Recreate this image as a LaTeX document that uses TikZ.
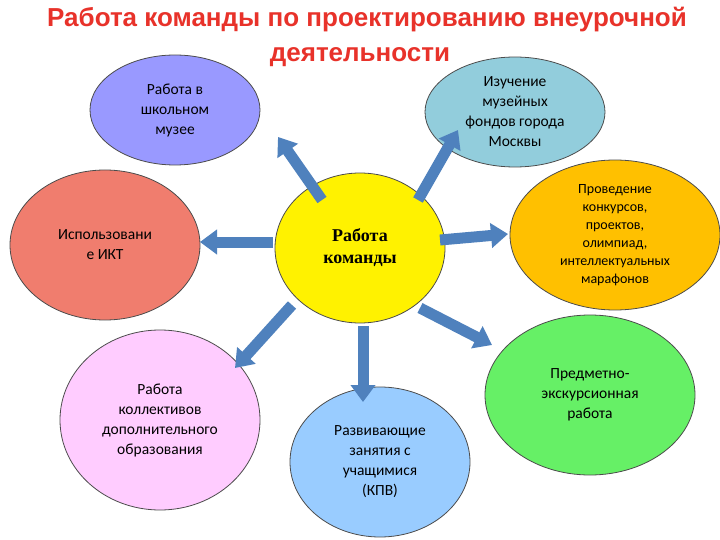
\documentclass[tikz,border=0pt]{standalone}
\usepackage{fontspec}
\setmainfont{Carlito}
\newfontfamily\titlefont{Liberation Sans}
\newfontfamily\serfont{Liberation Serif}
\usetikzlibrary{arrows.meta,shapes.geometric}
\definecolor{arrblue}{HTML}{4F81BD}
\definecolor{ttlred}{HTML}{E8322A}
\tikzset{
  bub/.style={ellipse, draw=black!70, line width=0.8pt, align=center, font=\fontsize{15.5}{20}\selectfont, inner sep=0pt},
  barr/.style={draw=arrblue, line width=11pt, -{Triangle[width=24pt,length=17pt]}},
  ttl/.style={font=\titlefont\bfseries\fontsize{26}{29}\selectfont, text=ttlred}
}
\begin{document}
\begin{tikzpicture}[x=1pt,y=-1pt]
\useasboundingbox[fill=white] (0,0) rectangle (720,540);
% title
\node[ttl] (t1) at (367,20) {Работа команды по проектированию внеурочной};
\node[ttl] (t2) at (360,57) {деятельности};
% bubbles
\node[bub, fill={rgb,255:red,153;green,153;blue,255}, minimum width=170, minimum height=110] (ul) at (175,110) {Работа в\\школьном\\музее};
\node[bub, fill={rgb,255:red,146;green,205;blue,220}, minimum width=180, minimum height=110] (ur) at (515,112) {Изучение\\музейных\\фондов города\\Москвы};
\node[bub, fill={rgb,255:red,240;green,125;blue,110}, minimum width=190, minimum height=150] (l) at (105,245) {Использовани\\е ИКТ};
\node[bub, fill=yellow, minimum width=170, minimum height=150, font=\serfont\bfseries\fontsize{18}{22}\selectfont] (c) at (360,248) {Работа\\команды};
\node[bub, fill={rgb,255:red,255;green,192;blue,0}, minimum width=210, minimum height=150, font=\fontsize{14}{18}\selectfont] (r) at (615,235) {Проведение\\конкурсов,\\проектов,\\олимпиад,\\интеллектуальных\\марафонов};
\node[bub, fill={rgb,255:red,102;green,240;blue,102}, minimum width=210, minimum height=160] (dr) at (590,395) {Предметно-\\экскурсионная\\работа};
\node[bub, fill={rgb,255:red,255;green,204;blue,255}, minimum width=200, minimum height=180] (dl) at (160,420) {Работа\\коллективов\\дополнительного\\образования};
\node[bub, fill={rgb,255:red,153;green,204;blue,255}, minimum width=180, minimum height=150] (d) at (380,462) {Развивающие\\занятия с\\учащимися\\(КПВ)};
% arrows
\coordinate (a1s) at (322,200); \coordinate (a1e) at (278,137);
\coordinate (a2s) at (418,200); \coordinate (a2e) at (458,130);
\coordinate (a3s) at (273,242); \coordinate (a3e) at (200,242);
\coordinate (a4s) at (440,240); \coordinate (a4e) at (508,234);
\coordinate (a5s) at (420,308); \coordinate (a5e) at (492,345);
\coordinate (a6s) at (363,326); \coordinate (a6e) at (363,402);
\coordinate (a7s) at (292,305); \coordinate (a7e) at (235,368);
\foreach \i in {1,...,7} \draw[barr] (a\i s) -- (a\i e);
\end{tikzpicture}
\end{document}
